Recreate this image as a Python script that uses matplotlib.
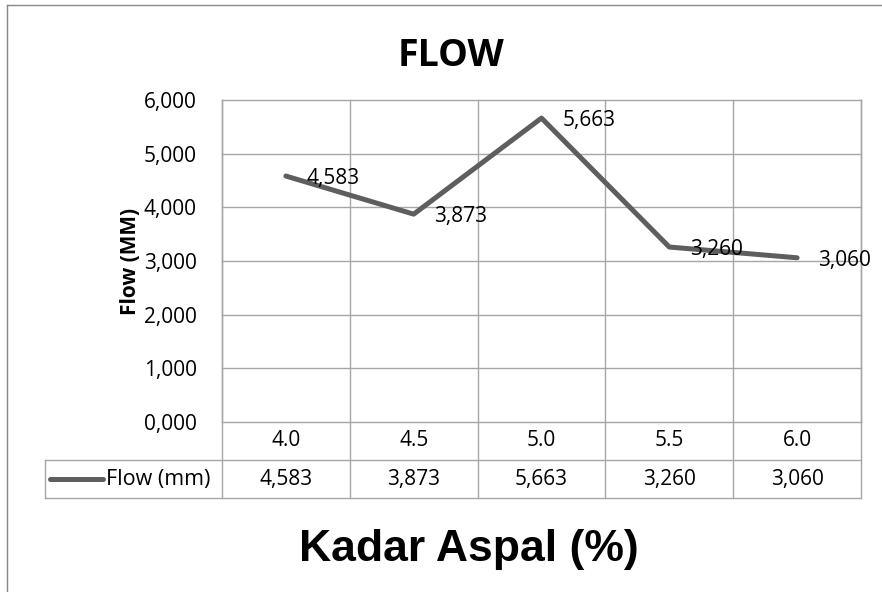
import matplotlib.pyplot as plt

# Data
kadar = ['4.0', '4.5', '5.0', '5.5', '6.0']
flow = [4.583, 3.873, 5.663, 3.260, 3.060]
flow_labels = ['4,583', '3,873', '5,663', '3,260', '3,060']
y_ticks = [0, 1, 2, 3, 4, 5, 6]
y_tick_labels = ['0,000', '1,000', '2,000', '3,000', '4,000', '5,000', '6,000']
series_name = 'Flow (mm)'

W, H = 882, 592
fig = plt.figure(figsize=(8.82, 5.92), dpi=100)
plt.rcParams['font.family'] = ['Open Sans', 'DejaVu Sans']

# plot area in pixels
left, right, top, bottom = 222, 861, 100, 422
ax = fig.add_axes([left / W, 1 - bottom / H, (right - left) / W, (bottom - top) / H])

grid_c = '#a6a6a6'
line_c = '#5e5e5e'
fs = 15
x = list(range(len(kadar)))

ax.plot(x, flow, color=line_c, linewidth=3.6, solid_capstyle='round', zorder=3)
ax.set_xlim(-0.5, len(kadar) - 0.5)
ax.set_ylim(0, 6)
ax.set_yticks(y_ticks)
ax.set_yticklabels(y_tick_labels, fontsize=fs)
ax.set_xticks([])
ax.tick_params(axis='y', length=0, pad=18)
for yt in y_ticks:
    ax.axhline(yt, color=grid_c, linewidth=1, zorder=1, clip_on=False)
for i in range(len(kadar) + 1):
    ax.axvline(i - 0.5, color=grid_c, linewidth=1, zorder=1, clip_on=False)
for s in ax.spines.values():
    s.set_visible(False)

# data labels (to the right of each point)
for i, (v, lab) in enumerate(zip(flow, flow_labels)):
    ax.annotate(lab, (i, v), xytext=(15, -2), textcoords='offset points',
                ha='left', va='center', fontsize=fs, zorder=4)

ax.set_ylabel('Flow (MM)', fontsize=15, fontweight='bold', labelpad=2)

# data table below the plot
ph = bottom - top
pw = right - left
r1 = -38 / ph
r2 = -76 / ph
leg_left = (45 - left) / pw
kw = dict(color=grid_c, linewidth=1, transform=ax.transAxes, clip_on=False)
ax.plot([leg_left, 1], [r1, r1], **kw)
ax.plot([leg_left, 1], [r2, r2], **kw)
ax.plot([leg_left, leg_left], [r1, r2], **kw)
ax.plot([0, 0], [1, r2], **kw)
ax.plot([1, 1], [1, r2], **kw)
for i in range(1, len(kadar)):
    xf = i / len(kadar)
    ax.plot([xf, xf], [0, r2], **kw)

for i, (k, lab) in enumerate(zip(kadar, flow_labels)):
    xc = (i + 0.5) / len(kadar)
    ax.text(xc, r1 / 2, k, transform=ax.transAxes, ha='center', va='center', fontsize=fs)
    ax.text(xc, (r1 + r2) / 2, lab, transform=ax.transAxes, ha='center', va='center', fontsize=fs)

ax.plot([(50 - left) / pw, (103 - left) / pw], [(r1 + r2) / 2] * 2,
        color=line_c, linewidth=3.6, solid_capstyle='round', transform=ax.transAxes, clip_on=False)
ax.text((106 - left) / pw, (r1 + r2) / 2, series_name, transform=ax.transAxes,
        ha='left', va='center', fontsize=15.5)

# titles
fig.text(451 / W, 1 - 56 / H, 'FLOW', ha='center', va='center', fontsize=27, fontweight='bold')
fig.text(469 / W, 1 - 550 / H, 'Kadar Aspal (%)', ha='center', va='center', fontsize=32,
         fontweight='bold', family='Liberation Sans')

# chart border (top and left edges visible)
fig.add_artist(plt.Line2D([7 / W, 1], [1 - 5 / H, 1 - 5 / H], color='#888888', linewidth=1))
fig.add_artist(plt.Line2D([7 / W, 7 / W], [0, 1 - 5 / H], color='#888888', linewidth=1))

fig.savefig('out.png', dpi=100)
